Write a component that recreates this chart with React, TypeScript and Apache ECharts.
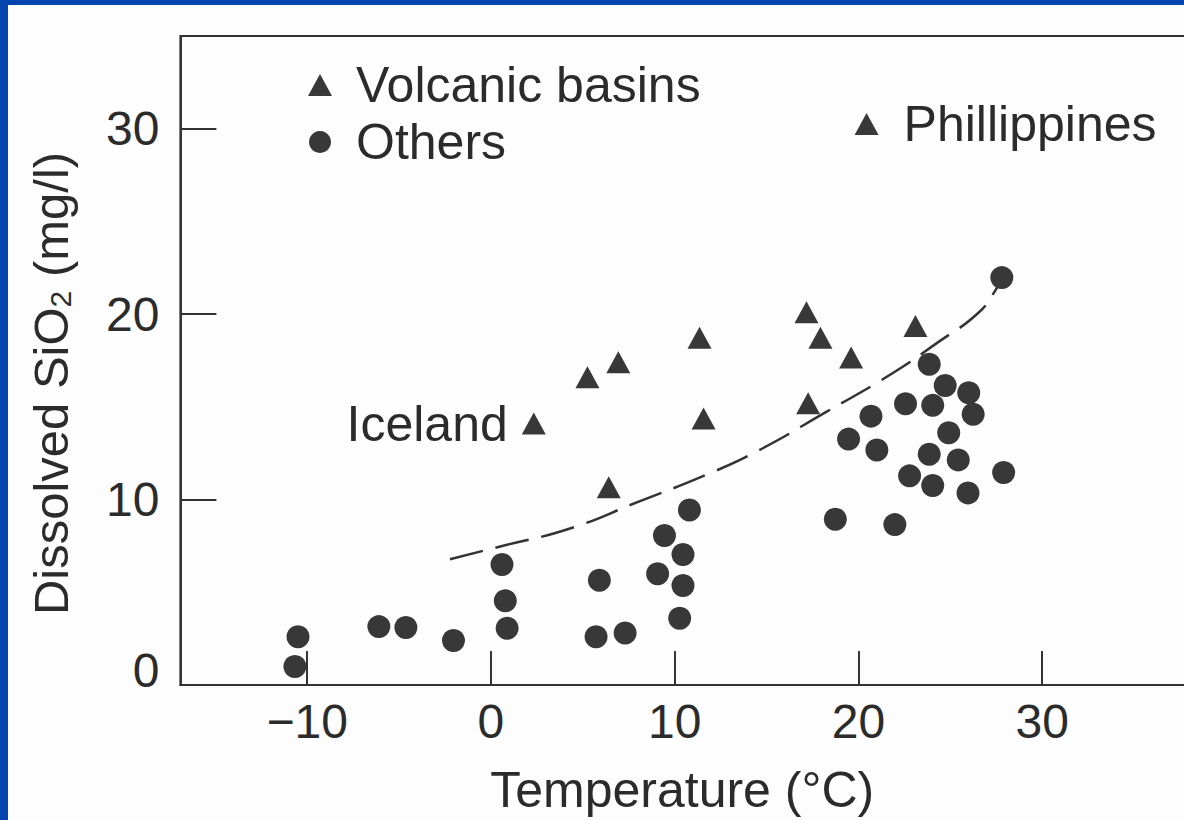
import React, { useEffect, useRef } from "react";
import * as echarts from "echarts";

// Tick values
const xTicks = [-10, 0, 10, 20, 30];
const yTicks = [0, 10, 20, 30];
const yTickMarks = [10, 20, 30];

// Volcanic basins (triangles): [temperature °C, SiO2 mg/l]
const volcanicBasins: [number, number][] = [
  [2.33, 14.1],
  [5.25, 16.6],
  [6.93, 17.4],
  [11.35, 18.73],
  [11.57, 14.37],
  [6.41, 10.66],
  [17.17, 20.1],
  [17.93, 18.73],
  [19.6, 17.66],
  [17.26, 15.2],
  [23.1, 19.36],
  [20.44, 30.26],
];
const volcanicLabels = ["Iceland", "", "", "", "", "", "", "", "", "", "", "Phillippines"];

// Others (circles)
const others: [number, number][] = [
  [-10.67, 1.0],
  [-10.5, 2.6],
  [-6.1, 3.15],
  [-4.63, 3.1],
  [-2.04, 2.4],
  [0.6, 6.5],
  [0.78, 4.54],
  [0.88, 3.06],
  [5.9, 5.65],
  [5.72, 2.6],
  [7.3, 2.8],
  [10.8, 9.44],
  [9.44, 8.06],
  [10.45, 7.04],
  [9.07, 6.0],
  [10.45, 5.37],
  [10.27, 3.6],
  [27.8, 21.97],
  [23.85, 17.3],
  [24.72, 16.15],
  [26.0, 15.76],
  [24.04, 15.08],
  [26.24, 14.6],
  [22.56, 15.17],
  [20.68, 14.5],
  [19.46, 13.26],
  [21.0, 12.67],
  [24.91, 13.6],
  [23.85, 12.44],
  [25.43, 12.14],
  [22.78, 11.28],
  [24.04, 10.76],
  [25.96, 10.36],
  [27.9, 11.46],
  [18.74, 8.94],
  [21.98, 8.65],
];

// Dashed trend curve
const trendCurve: [number, number][] = [
  [-2.23, 6.78],
  [0.61, 7.5],
  [4.3, 8.44],
  [8.04, 9.89],
  [11.73, 11.34],
  [14.6, 12.67],
  [18.2, 14.7],
  [21.83, 16.8],
  [24.28, 18.45],
  [26.5, 20.05],
  [27.4, 21.2],
  [27.8, 21.97],
];

const BLUE = "#0345ae";
const INK = "#2b2b2b";
const MARK = "#383838";
const FONT = "'Liberation Sans', Arial, Helvetica, sans-serif";

export default function App() {
  const ref = useRef<HTMLDivElement>(null);

  useEffect(() => {
    if (!ref.current) return;
    const chart = echarts.init(ref.current, null, { renderer: "svg" });

    const volcanicData = volcanicBasins.map((p, i) => {
      const name = volcanicLabels[i];
      if (!name) return { value: p };
      const isRight = name === "Phillippines";
      return {
        value: p,
        label: {
          show: true,
          formatter: name,
          position: isRight ? "right" : "left",
          distance: isRight ? 25 : 14,
          fontSize: 50,
          color: INK,
          opacity: 1,
          fontFamily: FONT,
        },
      };
    });

    chart.setOption({
      animation: false,
      textStyle: { fontFamily: FONT },
      grid: {
        left: 172.4,
        right: 32,
        top: 31,
        bottom: 135,
        show: true,
        borderColor: "#333",
        borderWidth: 2,
        backgroundColor: "transparent",
      },
      legend: {
        data: [
          { name: "Volcanic basins", icon: "triangle" },
          { name: "Others", icon: "circle" },
        ],
        orient: "vertical",
        left: 295,
        top: 50,
        itemWidth: 24,
        itemHeight: 22,
        itemGap: 7,
        selectedMode: false,
        itemStyle: { opacity: 1 },
        textStyle: { fontSize: 50, color: INK, fontFamily: FONT, padding: [0, 0, 0, 19] },
      },
      xAxis: {
        type: "value",
        min: -16.9,
        max: 40,
        splitLine: { show: false },
        axisLine: { onZero: false, lineStyle: { color: "#333", width: 2 } },
        axisTick: {
          inside: true,
          length: 34,
          customValues: xTicks,
          lineStyle: { color: "#333", width: 2 },
        },
        axisLabel: {
          customValues: xTicks,
          formatter: (v: number) => String(v).replace("-", "\u2212"),
          fontSize: 48,
          color: INK,
          margin: 12,
        },
        name: "Temperature (°C)",
        nameLocation: "middle",
        nameGap: 80,
        nameTextStyle: { fontSize: 50, color: INK, padding: [0, 42, 0, 0] },
      },
      yAxis: {
        type: "value",
        min: 0,
        max: 35,
        splitLine: { show: false },
        axisLine: { onZero: false, lineStyle: { color: "#333", width: 2 } },
        axisTick: {
          inside: true,
          length: 36,
          customValues: yTickMarks,
          lineStyle: { color: "#333", width: 2 },
        },
        axisLabel: {
          customValues: yTicks,
          formatter: (v: number) => (v === 0 ? "{z|0}" : String(v)),
          fontSize: 48,
          color: INK,
          margin: 21,
          rich: { z: { fontSize: 48, color: INK, padding: [0, 0, 30, 0] } },
        },
        name: "{a|Dissolved SiO}{s|2}{a| (mg/l)}",
        nameLocation: "middle",
        nameGap: 105,
        nameTextStyle: {
          color: INK,
          fontSize: 49,
          padding: [0, 46, 0, 0],
          rich: {
            a: { fontSize: 49, color: INK, fontFamily: FONT },
            s: { fontSize: 30, color: INK, fontFamily: FONT, verticalAlign: "bottom" },
          },
        },
      },
      series: [
        {
          name: "trend",
          type: "line",
          data: trendCurve,
          smooth: true,
          symbol: "none",
          silent: true,
          z: 1,
          lineStyle: { type: [34, 13], width: 2.5, color: "#333" },
        },
        {
          name: "Volcanic basins",
          type: "scatter",
          symbol: "triangle",
          symbolSize: [24, 22],
          z: 3,
          itemStyle: { color: MARK, opacity: 1 },
          data: volcanicData,
        },
        {
          name: "Others",
          type: "scatter",
          symbol: "circle",
          symbolSize: 23,
          z: 3,
          itemStyle: { color: MARK, opacity: 1 },
          data: others,
        },
      ],
    });

    return () => chart.dispose();
  }, []);

  return (
    <div
      style={{
        position: "fixed",
        left: 0,
        top: 0,
        width: 1184,
        height: 820,
        background: BLUE,
        overflow: "hidden",
      }}
    >
      <div
        style={{
          position: "absolute",
          left: 8,
          top: 5,
          width: 1176,
          height: 815,
          background: "#fdfdfd",
          overflow: "hidden",
        }}
      >
        <div ref={ref} style={{ width: 1250, height: 815 }} />
      </div>
    </div>
  );
}
